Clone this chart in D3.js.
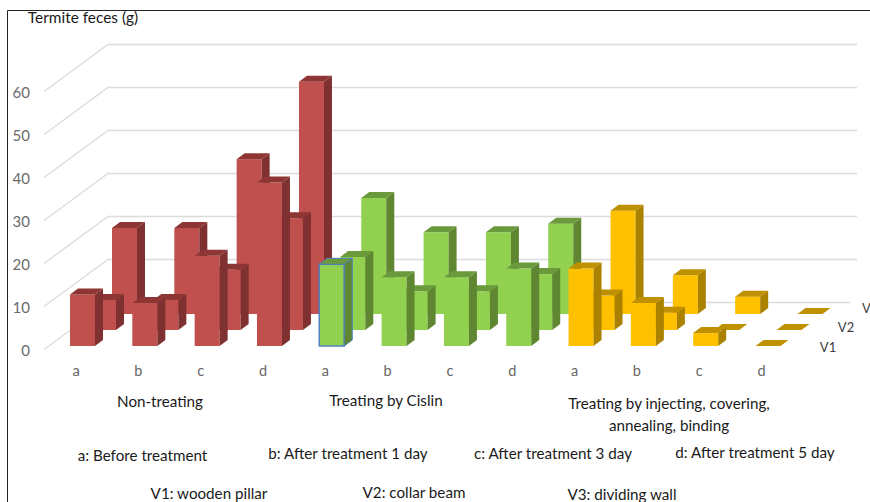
<!DOCTYPE html>
<html><head><meta charset="utf-8">
<script src="https://cdn.jsdelivr.net/npm/d3@7"></script>
<style>html,body{margin:0;padding:0;background:#fff}svg{display:block}text{font-family:Lato,"Open Sans",sans-serif}</style>
</head><body><svg id="c" width="870" height="502"></svg>
<script>
const categories = ["a","b","c","d","a","b","c","d","a","b","c","d"];
const groups = ["Non-treating","Treating by Cislin","Treating by injecting"];
const rows = ["V1","V2","V3"];
const V1 = [12,10,21,38,19,16,16,18,18,10,3,0];
const V2 = [7,7,14,26,17,9,9,13,8,4,0,0];
const V3 = [20,20,36,54,27,19,19,21,24,9,4,0];
const yTicks = [0,10,20,30,40,50,60];
const palette = [
  {front:"#C0504D",top:"#8E3634",side:"#7F3030"},
  {front:"#92D050",top:"#6A9A3B",side:"#5F8732"},
  {front:"#FFC000",top:"#BF9000",side:"#AB8200"}];

const svg = d3.select("#c");
const W = 25, DX = 8, DY = 6;
const x = d3.scaleLinear().domain([0,11]).range([70,755.5]);
const rowX = d3.scalePoint().domain(rows).range([0,42]);
const rowY = d3.scalePoint().domain(rows).range([346,314]);
const h = d3.scaleLinear().domain([0,60]).range([0,258]);
const wallY = d3.scaleLinear().domain([0,60]).range([302.5,44.5]);

// frame
svg.append("path").attr("d","M7.5,502V10.5H870").attr("fill","none").attr("stroke","#222").attr("stroke-width",1);

// gridlines: floor/side wall diagonal then back wall
yTicks.forEach(t=>{
  const y = wallY(t);
  svg.append("path")
    .attr("d",`M44,${y+47}L108,${y}L${t===0?850:857},${y}`)
    .attr("fill","none").attr("stroke","#dcdcdc").attr("stroke-width",1.4);
  svg.append("text").attr("x",30).attr("y",y+47+3).attr("text-anchor","end")
    .attr("dominant-baseline","middle").attr("font-size",15).attr("fill","#6a6a6a").text(t);
});

// bars back to front
const data = {V1,V2,V3};
rows.slice().reverse().forEach(r=>{
  data[r].forEach((v,i)=>{
    const g = svg.append("g");
    const c = palette[Math.floor(i/4)];
    const x0 = x(i)+rowX(r), b = rowY(r), t = b-h(v);
    const selected = r==="V1" && i===4;
    if(v>0){
      g.append("rect").attr("x",x0).attr("y",t).attr("width",W).attr("height",h(v))
        .attr("fill",c.front).attr("stroke",selected?"#4F81BD":"none").attr("stroke-width",selected?1.5:0);
      g.append("path").attr("d",`M${x0+W},${t}L${x0+W+DX},${t-DY}L${x0+W+DX},${b-DY}L${x0+W},${b}Z`)
        .attr("fill",c.side).attr("stroke",selected?"#4F81BD":"none");
    }
    g.append("path").attr("d",`M${x0},${t}L${x0+DX},${t-DY}L${x0+W+DX},${t-DY}L${x0+W},${t}Z`)
      .attr("fill",c.top).attr("stroke",selected?"#4F81BD":"none");
  });
});

// category labels
svg.append("g").selectAll("text").data(categories).join("text")
  .attr("x",(d,i)=>x(i)+6).attr("y",376).attr("text-anchor","middle")
  .attr("font-size",14.5).attr("fill","#666666").text(d=>d);

// row labels
const rowLabelX = {V1:828,V2:846,V3:862};
const rowLabelY = {V1:352,V2:332,V3:313};
svg.append("g").selectAll("text").data(rows).join("text")
  .attr("x",d=>rowLabelX[d]).attr("y",d=>rowLabelY[d]).attr("text-anchor",d=>d==="V3"?"start":"middle")
  .attr("font-size",13).attr("fill","#404040").text(d=>d);

// annotation texts
const notes = [
  ["Termite feces (g)",83,23,15.4],
  ["Non-treating",160,407,15.2],
  ["Treating by Cislin",386,406,15.2],
  ["Treating by injecting, covering,",669,409,15.2],
  ["annealing, binding",669,431,15.2],
  ["a: Before treatment",142.5,461,15.2],
  ["b: After treatment 1 day",348,459,15.2],
  ["c: After treatment 3 day",553,459,15.2],
  ["d: After treatment 5 day",755,458,15.2],
  ["V1: wooden pillar",209,499,15.2],
  ["V2: collar beam",414,498,15.2],
  ["V3: dividing wall",622,500,15.2]];
svg.append("g").selectAll("text").data(notes).join("text")
  .attr("x",d=>d[1]).attr("y",d=>d[2]).attr("font-size",d=>d[3])
  .attr("text-anchor","middle").attr("fill","#1a1a1a").text(d=>d[0]);
</script></body></html>
